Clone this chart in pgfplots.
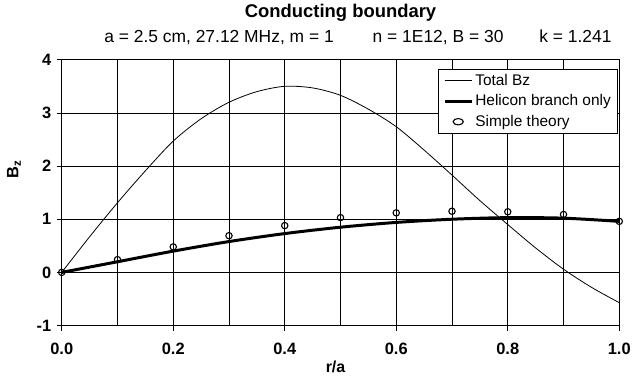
\documentclass[border=0pt]{standalone}
\usepackage{fontspec}
\setmainfont{Liberation Sans}
\usepackage{pgfplots}
\pgfplotsset{compat=1.18}
\begin{document}
\begin{tikzpicture}[x=1pt,y=1pt]
\begin{axis}[
  at={(0pt,0pt)}, anchor=south west,
  scale only axis, width=560pt, height=267pt,
  xmin=0, xmax=1, ymin=-1, ymax=4,
  xtick={0,0.2,0.4,0.6,0.8,1.0},
  minor xtick={0.1,0.3,0.5,0.7,0.9},
  ytick={-1,0,1,2,3,4},
  grid=both,
  major grid style={black, line width=0.7pt},
  minor grid style={black, line width=0.7pt},
  axis line style={black, line width=0.8pt},
  tick align=outside, tick pos=left,
  major tick length=5pt, minor tick length=0pt,
  tick style={black, line width=0.7pt},
  /pgf/number format/assume math mode=true,
  xticklabel style={font=\fontsize{16.5}{18}\selectfont\bfseries, yshift=-9pt, /pgf/number format/.cd, fixed, fixed zerofill, precision=1},
  yticklabel style={font=\fontsize{16.5}{18}\selectfont\bfseries, xshift=-2pt},
  legend style={at={(rel axis cs:0.998,0.966)}, anchor=north east, draw=black, line width=0.7pt, fill=white,
    font=\fontsize{15.5}{18}\selectfont, inner xsep=5pt, inner ysep=3pt, row sep=4pt, cells={anchor=west}},
  legend cell align=left,
  legend image post style={xscale=1.6},
  clip=false,
]
\addplot[black, line width=0.8pt, smooth] coordinates {
(0,0) (0.05,0.67) (0.1,1.31) (0.15,1.91) (0.2,2.47) (0.25,2.89) (0.3,3.2) (0.35,3.40) (0.4,3.50) (0.45,3.47) (0.5,3.33) (0.55,3.07) (0.6,2.74) (0.65,2.3) (0.7,1.83) (0.75,1.35) (0.8,0.9) (0.85,0.46) (0.9,0.06) (0.95,-0.28) (1.0,-0.57)};
\addlegendentry{Total Bz}
\addplot[black, line width=3pt, smooth] coordinates {
(0,0) (0.1,0.2) (0.2,0.4) (0.3,0.58) (0.4,0.73) (0.5,0.85) (0.6,0.94) (0.7,1.0) (0.8,1.03) (0.9,1.02) (1.0,0.96)};
\addlegendentry{Helicon branch only}
\addplot[only marks, mark=o, mark size=3.2pt, mark options={black, fill=white, line width=1.1pt}] coordinates {
(0,0) (0.1,0.24) (0.2,0.48) (0.3,0.69) (0.4,0.88) (0.5,1.03) (0.6,1.12) (0.7,1.15) (0.8,1.14) (0.9,1.09) (1.0,0.96)};
\addlegendentry{Simple theory}
\end{axis}
\node[font=\fontsize{18.5}{20}\selectfont\bfseries] at (280pt,314pt) {Conducting boundary};
\node[font=\fontsize{17.5}{20}\selectfont, anchor=base] at (158pt,284pt) {a = 2.5 cm, 27.12 MHz, m = 1};
\node[font=\fontsize{17.5}{20}\selectfont, anchor=base] at (378pt,284pt) {n = 1E12, B = 30};
\node[font=\fontsize{17.5}{20}\selectfont, anchor=base] at (516pt,284pt) {k = 1.241};
\node[font=\fontsize{16}{18}\selectfont\bfseries] at (275pt,-42pt) {r/a};
\node[font=\fontsize{16.5}{18}\selectfont\bfseries, rotate=90] at (-48pt,157pt) {B\textsubscript{z}};
\path[use as bounding box] (-62pt,-52pt) rectangle (572pt,327pt);
\end{tikzpicture}
\end{document}
